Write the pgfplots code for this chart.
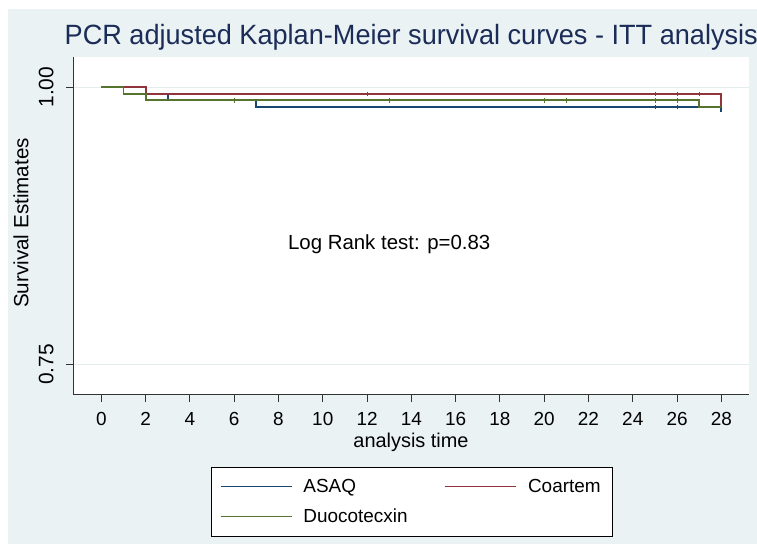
\documentclass[border=0pt]{standalone}
\usepackage{pgfplots}
\pgfplotsset{compat=1.18}
\usepackage{fontspec}
\setmainfont{Liberation Sans}
\newfontfamily\titlefont[FakeStretch=0.972]{Liberation Sans}
\definecolor{bgc}{RGB}{234,242,243}
\definecolor{gridc}{RGB}{228,236,238}
\definecolor{asaq}{RGB}{26,71,111}
\definecolor{coart}{RGB}{144,53,59}
\definecolor{duoc}{RGB}{85,117,47}
\definecolor{ttl}{RGB}{28,44,88}
\definecolor{axc}{RGB}{50,50,50}
\begin{document}
\begin{tikzpicture}[x=1bp,y=1bp]
\useasboundingbox (0,0) rectangle (757,544);
\fill[white] (0,0) rectangle (757,544);
\fill[bgc] (8,0) rectangle (757,535);
\node[anchor=base west, inner sep=0, text=ttl, font=\titlefont\fontsize{28}{30}\selectfont] at (64.5,499) {PCR adjusted Kaplan-Meier survival curves - ITT analysis};
\begin{axis}[
  at={(73bp,149bp)}, anchor=south west,
  scale only axis, width=676bp, height=338bp,
  xmin=-1.28, xmax=29.25, ymin=0.7223, ymax=1.0273,
  axis background/.style={fill=white},
  axis x line*=bottom, axis y line*=left,
  axis line style={axc, line width=1bp, -},
  xtick={0,2,...,28}, ytick={0.75,1}, yticklabels={0.75,1.00},
  tick align=outside, major tick length=7bp, minor tick num=0,
  tick style={axc, line width=1bp},
  ymajorgrids, grid style={gridc, line width=1bp},
  /pgf/number format/assume math mode=true,
  xticklabel shift=7bp, yticklabel shift=9bp,
  xticklabel style={font=\fontsize{19}{21}\selectfont},
  yticklabel style={font=\fontsize{21}{23}\selectfont, rotate=90, anchor=south},
  xlabel={analysis time},
  xlabel style={at={(axis description cs:0.5,-0.155)}, anchor=base, font=\fontsize{20}{22}\selectfont, inner sep=0pt},
  ylabel={Survival Estimates},
  ylabel style={at={(axis description cs:-0.0661,0.509)}, anchor=base, rotate=0, font=\fontsize{20.7}{22}\selectfont, inner sep=0pt},
  legend columns=2,
  legend style={at={(axis description cs:0.2041,-0.2130)}, anchor=north west,
    draw=black, line width=1bp, fill=white, inner xsep=9bp, inner ysep=12bp,
    font=\fontsize{19}{21}\selectfont, nodes={inner sep=0pt}, column sep=0pt, row sep=15bp},
  legend cell align=left,
  legend image code/.code={\draw[#1, line width=1bp] (0bp,0bp) -- (71bp,0bp);},
]
\addplot[const plot, asaq, line width=1.8bp] coordinates {(0,1) (1,0.9941) (3,0.9882) (7,0.9824) (28,0.9774)};
\addlegendentry{\hspace*{11bp}\makebox[140.6bp][l]{ASAQ}}
\addplot[const plot, coart, line width=1.8bp] coordinates {(0,1) (2,0.9941) (28,0.9822)};
\addlegendentry{\hspace*{12bp}\makebox[75bp][l]{Coartem}}
\addplot[const plot, duoc, line width=1.8bp] coordinates {(0,1) (1,0.9941) (2,0.9882) (27,0.9822) (28,0.9822)};
\addlegendentry{\hspace*{11bp}\makebox[140.6bp][l]{Duocotecxin}}
\addplot[only marks, mark=|, mark size=2.2bp, coart, mark options={line width=0.8bp}, forget plot] coordinates {(12,0.9941) (25,0.9941) (26,0.9941) (27,0.9941)};
\addplot[only marks, mark=|, mark size=2.2bp, duoc, mark options={line width=0.8bp}, forget plot] coordinates {(6,0.9882) (13,0.9882) (20,0.9882) (21,0.9882) (25,0.9882) (26,0.9882)};
\addplot[only marks, mark=|, mark size=2.2bp, asaq, mark options={line width=0.8bp}, forget plot] coordinates {(25,0.9824) (26,0.9824)};
\node[anchor=base, inner sep=0pt, font=\fontsize{20.5}{22}\selectfont] at (axis cs:13.0,0.8538) {Log Rank test: p=0.83};
\end{axis}
\end{tikzpicture}
\end{document}
